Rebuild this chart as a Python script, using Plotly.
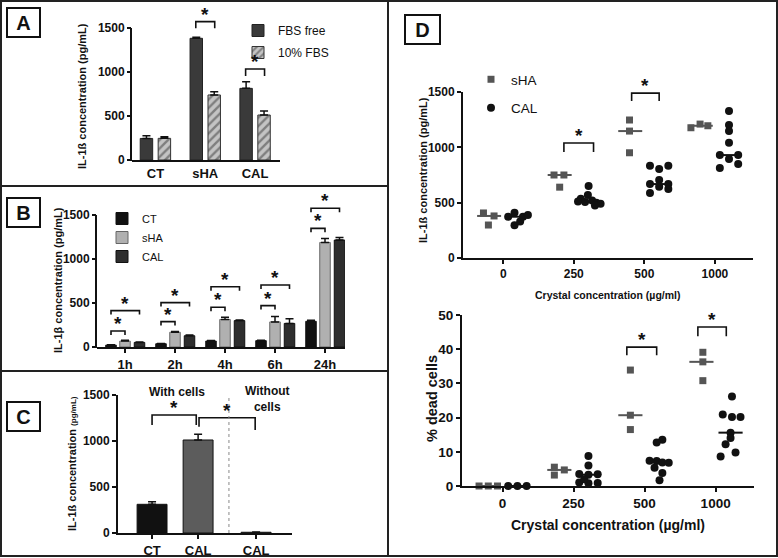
import numpy as np
import plotly.graph_objects as go

W, H = 778, 558
FONT = "Liberation Sans, Arial, sans-serif"


def fx(p):
    return p / W


def fy(p):
    return 1 - p / H


# ---------------- data ----------------
a_categories = ["CT", "sHA", "CAL"]
a_fbs_free = [245, 1383, 814]
a_fbs_free_err = [30, 11, 76]
a_fbs_10 = [246, 739, 511]
a_fbs_10_err = [19, 37, 46]

b_times = ["1h", "2h", "4h", "6h", "24h"]
b_ct = [22, 37, 68, 72, 292]
b_ct_err = [4, 4, 5, 5, 12]
b_sha = [67, 168, 313, 285, 1188]
b_sha_err = [10, 8, 25, 62, 45]
b_cal = [52, 128, 300, 268, 1215]
b_cal_err = [6, 8, 8, 52, 28]

c_labels = ["CT", "CAL", "CAL"]
c_values = [312, 1011, 8]
c_err = [28, 62, 3]

d_conc = ["0", "250", "500", "1000"]
d_il_sha = [[407, 380, 298], [750, 750, 640], [1247, 1147, 951], [1177, 1210, 1195]]
d_il_cal = [[373, 409, 296, 330, 373, 388],
            [650, 570, 535, 520, 510, 505, 500, 490, 475],
            [834, 804, 834, 668, 705, 668, 644, 587, 623],
            [1328, 1202, 1147, 1042, 930, 895, 930, 813, 849]]
d_dead_sha = [[0, 0, 0], [5.5, 4.7, 3.2], [33.9, 20.7, 16.5], [39.1, 36.3, 30.8]]
d_dead_cal = [[0, 0, 0],
              [8.8, 6.0, 3.5, 3.3, 3.4, 1.0, 0.8, 0.9, 2.0],
              [13.5, 12.7, 7.4, 7.3, 6.9, 6.8, 5.3, 3.8, 1.7],
              [26.2, 20.9, 20.2, 20.2, 15.6, 14.0, 12.2, 9.8, 8.6]]

# ---------------- layout helpers (positions / jitter, not data) ----------------
c_pos = [1, 2, 3.26]
d_il_sha_jit = [[-0.28, -0.13, -0.21], [-0.28, -0.14, -0.2], [-0.21, -0.21, -0.21], [-0.34, -0.21, -0.1]]
d_il_cal_jit = [[0.07, 0.16, 0.16, 0.24, 0.28, 0.35],
                [0.21, 0.2, 0.1, 0.26, 0.06, 0.16, 0.32, 0.38, 0.3],
                [0.08, 0.21, 0.34, 0.08, 0.21, 0.34, 0.21, 0.08, 0.34],
                [0.2, 0.2, 0.2, 0.2, 0.07, 0.2, 0.33, 0.07, 0.33]]
d_dead_sha_jit = [[-0.33, -0.2, -0.07], [-0.27, -0.13, -0.27], [-0.2, -0.2, -0.2], [-0.18, -0.18, -0.18]]
d_dead_cal_jit = [[0.08, 0.21, 0.34],
                  [0.21, 0.21, 0.08, 0.21, 0.34, 0.08, 0.21, 0.34, 0.15],
                  [0.25, 0.17, 0.07, 0.17, 0.25, 0.34, 0.14, 0.25, 0.21],
                  [0.23, 0.1, 0.23, 0.35, 0.21, 0.21, 0.14, 0.28, 0.07]]

fig = go.Figure()

BLK = "#111111"


def err(arr):
    return dict(type="data", array=arr, arrayminus=[0] * len(arr), symmetric=False,
                color=BLK, thickness=1.5, width=4)


def bracket(xa, ya, x0, x1, top, leg0, leg1=None, sx=None, size=19):
    if leg1 is None:
        leg1 = leg0
    fig.add_trace(go.Scatter(x=[x0, x0, x1, x1], y=[leg0, top, top, leg1], mode="lines",
                             line=dict(color=BLK, width=1.6), xaxis=xa, yaxis=ya,
                             showlegend=False, hoverinfo="skip"))
    fig.add_annotation(x=(x0 + x1) / 2 if sx is None else sx, y=top, xref=xa, yref=ya,
                       text="<b>*</b>", showarrow=False, yanchor="bottom", yshift=-5,
                       font=dict(size=size, color=BLK, family=FONT))


# ---------------- Panel A ----------------
a_x = list(range(len(a_categories)))
fig.add_trace(go.Bar(x=a_x, y=a_fbs_free, name="FBS free", width=0.25, offset=-0.305,
                     marker=dict(color="#3a3a3a", line=dict(color="#222", width=1)),
                     error_y=err(a_fbs_free_err), xaxis="x", yaxis="y",
                     legend="legend", legendgroup="a1"))
fig.add_trace(go.Bar(x=a_x, y=a_fbs_10, name="10% FBS", width=0.25, offset=0.055,
                     marker=dict(color="#c4c4c4", line=dict(color="#333", width=1),
                                 pattern=dict(shape="/", fgcolor="#3a3a3a", bgcolor="#c4c4c4",
                                              size=6, solidity=0.4)),
                     error_y=err(a_fbs_10_err), xaxis="x", yaxis="y",
                     legend="legend", legendgroup="a2"))
bracket("x", "y", 1 - 0.19, 1 + 0.19, 1572, 1496)
bracket("x", "y", 2 - 0.19, 2 + 0.19, 1034, 955)

# ---------------- Panel B ----------------
b_x = list(range(len(b_times)))
for name, vals, errs, col, off in [("CT", b_ct, b_ct_err, "#111111", -0.385),
                                   ("sHA", b_sha, b_sha_err, "#b0b0b0", -0.105),
                                   ("CAL", b_cal, b_cal_err, "#2e2e2e", 0.185)]:
    fig.add_trace(go.Bar(x=b_x, y=vals, name=name, width=0.21, offset=off,
                         marker=dict(color=col, line=dict(color="#666" if name == "sHA" else "#111", width=1)),
                         error_y=err(errs), xaxis="x2", yaxis="y2", legend="legend2"))
b_short_tops = [182, 288, 451, 470, 1348]
b_long_tops = [413, 504, 685, 705, 1576]
for i in b_x:
    bracket("x2", "y2", i - 0.28, i, b_short_tops[i], b_short_tops[i] - 45)
    bracket("x2", "y2", i - 0.28, i + 0.29, b_long_tops[i], b_long_tops[i] - 45)

# ---------------- Panel C ----------------
fig.add_trace(go.Bar(x=c_pos, y=c_values, width=0.65, offset=-0.325,
                     marker=dict(color=["#111111", "#5c5c5c", "#5c5c5c"], line=dict(color="#111", width=1)),
                     error_y=err(c_err), xaxis="x3", yaxis="y3", showlegend=False))
bracket("x3", "y3", 1, 1.96, 1283, 1174, sx=1.48)
bracket("x3", "y3", 2.02, 3.24, 1253, 1155, 1120, sx=2.63)

# ---------------- Panel D ----------------
SHA_COL = "#555555"


def scatter_group(vals, jits, xa, ya, name, symbol, col, size, legend, showlegend):
    xs, ys = [], []
    for i, (v, j) in enumerate(zip(vals, jits)):
        xs += [i + o for o in j]
        ys += v
    fig.add_trace(go.Scatter(x=xs, y=ys, mode="markers", name=name, cliponaxis=False,
                             marker=dict(symbol=symbol, color=col, size=size),
                             xaxis=xa, yaxis=ya, legend=legend, legendgroup=name,
                             showlegend=showlegend))


def medians(vals, center, xa, ya, col):
    for i, v in enumerate(vals):
        m = float(np.median(v))
        fig.add_trace(go.Scatter(x=[i + center - 0.17, i + center + 0.17], y=[m, m], mode="lines",
                                 line=dict(color=col, width=2), xaxis=xa, yaxis=ya,
                                 showlegend=False, hoverinfo="skip"))


medians(d_il_sha, -0.2, "x4", "y4", SHA_COL)
medians(d_il_cal, 0.21, "x4", "y4", BLK)
medians(d_dead_sha, -0.2, "x5", "y5", SHA_COL)
medians(d_dead_cal, 0.21, "x5", "y5", BLK)
scatter_group(d_il_sha, d_il_sha_jit, "x4", "y4", "sHA", "square", SHA_COL, 7, "legend3", True)
scatter_group(d_il_cal, d_il_cal_jit, "x4", "y4", "CAL", "circle", BLK, 8, "legend3", True)
scatter_group(d_dead_sha, d_dead_sha_jit, "x5", "y5", "sHA", "square", SHA_COL, 7, "legend3", False)
scatter_group(d_dead_cal, d_dead_cal_jit, "x5", "y5", "CAL", "circle", BLK, 8, "legend3", False)

bracket("x4", "y4", 1 - 0.14, 1 + 0.28, 1039, 958)
bracket("x4", "y4", 2 - 0.18, 2 + 0.21, 1490, 1418)
bracket("x5", "y5", 2 - 0.25, 2 + 0.17, 40.6, 38.2)
bracket("x5", "y5", 3 - 0.25, 3 + 0.15, 46.5, 43.8)

# ---------------- axes ----------------
common = dict(showgrid=False, zeroline=False, linecolor=BLK, linewidth=2, ticks="outside",
              ticklen=4, tickwidth=2, tickcolor=BLK, automargin=False)
num_font = dict(family=FONT, size=12, color=BLK, weight="bold")
cat_font = dict(family=FONT, size=13, color=BLK, weight="bold")

YMAX_AB = 1650
# A
a_dom_x = [fx(132), fx(280)]
a_dom_y = [fy(160), fy(160 - 132 * YMAX_AB / 1500)]
fig.update_layout(
    xaxis=dict(domain=a_dom_x, anchor="y", range=[-0.47, 2.5], tickvals=a_x, ticktext=a_categories,
               tickfont=cat_font, ticks="", **{k: v for k, v in common.items() if k != "ticks"}),
    yaxis=dict(domain=a_dom_y, anchor="x", range=[0, YMAX_AB], tickvals=[0, 500, 1000, 1500],
               tickfont=num_font, **{**common, "linewidth": 0}, showline=False),
)
# B
b_dom_x = [fx(97), fx(345)]
b_dom_y = [fy(347), fy(347 - 132 * YMAX_AB / 1500)]
fig.update_layout(
    xaxis2=dict(domain=b_dom_x, anchor="y2", range=[-0.56, 4.4], tickvals=b_x, ticktext=b_times,
                tickfont=cat_font, **common),
    yaxis2=dict(domain=b_dom_y, anchor="x2", range=[0, YMAX_AB], tickvals=[0, 500, 1000, 1500],
                tickfont=num_font, **{**common, "linewidth": 0}, showline=False),
)
# C
fig.update_layout(
    xaxis3=dict(domain=[fx(118), fx(292)], anchor="y3", range=[0.26, 4.04], tickvals=c_pos,
                ticktext=c_labels, tickfont=cat_font, **common),
    yaxis3=dict(domain=[fy(533), fy(395)], anchor="x3", range=[0, 1500], tickvals=[0, 500, 1000, 1500],
                tickfont=num_font, **common),
)
# D top
d_x = list(range(len(d_conc)))
d_top_font = dict(family=FONT, size=12, color=BLK, weight="bold")
fig.update_layout(
    xaxis4=dict(domain=[fx(463), fx(753)], anchor="y4", range=[-0.57, 3.54], tickvals=d_x,
                ticktext=d_conc, tickfont=d_top_font, **common),
    yaxis4=dict(domain=[fy(258), fy(92)], anchor="x4", range=[0, 1500], tickvals=[0, 500, 1000, 1500],
                tickfont=d_top_font, **common),
)
# D bottom
d_bot_font = dict(family=FONT, size=13.5, color=BLK, weight="bold")
fig.update_layout(
    xaxis5=dict(domain=[fx(462), fx(754)], anchor="y5", range=[-0.57, 3.54], tickvals=d_x,
                ticktext=d_conc, tickfont=d_bot_font, **common),
    yaxis5=dict(domain=[fy(486), fy(315)], anchor="x5", range=[0, 50], tickvals=[0, 10, 20, 30, 40, 50],
                tickfont=d_bot_font, **common),
)
for ax in ["xaxis", "xaxis2", "xaxis3", "xaxis4", "xaxis5", "yaxis3", "yaxis4", "yaxis5"]:
    fig.layout[ax].showline = True

shapes = []
# y-axis lines for A and B (stop at 1500)
for dx, dy in [(a_dom_x, a_dom_y), (b_dom_x, b_dom_y)]:
    top = dy[0] + (dy[1] - dy[0]) * 1500 / YMAX_AB
    shapes.append(dict(type="line", xref="paper", yref="paper", x0=dx[0] - 1 / W, x1=dx[0] - 1 / W,
                       y0=dy[0] - 1 / H, y1=top, line=dict(color=BLK, width=2)))
# dotted separator in C
shapes.append(dict(type="line", xref="x3", yref="y3", x0=2.67, x1=2.67, y0=0, y1=1500,
                   line=dict(color="#888", width=1, dash="dot")))
# panel frames
frame = dict(color="#222", width=2)
shapes.append(dict(type="rect", xref="paper", yref="paper", x0=fx(1), x1=fx(777), y0=fy(556), y1=fy(1),
                   line=frame))
shapes.append(dict(type="line", xref="paper", yref="paper", x0=fx(388), x1=fx(388), y0=fy(556), y1=fy(1),
                   line=frame))
for yy in [186, 371]:
    shapes.append(dict(type="line", xref="paper", yref="paper", x0=fx(1), x1=fx(388), y0=fy(yy), y1=fy(yy),
                       line=frame))
fig.update_layout(shapes=shapes)


# ---------------- text annotations ----------------
def label_box(txt, cx, cy, w=29, h=25):
    fig.add_annotation(x=fx(cx), y=fy(cy), xref="paper", yref="paper", text="<b>%s</b>" % txt,
                       showarrow=False, xanchor="center", yanchor="middle", width=w, height=h,
                       bordercolor=BLK, borderwidth=2, bgcolor="white",
                       font=dict(family=FONT, size=20, color=BLK))


label_box("A", 23.5, 22)
label_box("B", 23.5, 212)
label_box("C", 23.5, 416)
label_box("D", 422, 30, w=31)


def text(t, cx, cy, size, angle=0, bold=True):
    fig.add_annotation(x=fx(cx), y=fy(cy), xref="paper", yref="paper",
                       text=("<b>%s</b>" % t) if bold else t, showarrow=False,
                       xanchor="center", yanchor="middle", textangle=angle,
                       font=dict(family=FONT, size=size, color=BLK))


text("IL-1ß concentration (pg/mL)", 82, 96, 11, -90)
text("IL-1β concentration (pg/mL)", 58, 280, 11, -90)
text("IL-1ß concentration <span style='font-size:8px'>(pg/mL)</span>", 72, 464, 11, -90)
text("IL-1ß concentration (pg/mL)", 423, 170, 11, -90)
text("Crystal concentration (µg/ml)", 608, 295, 10.5)
text("% dead cells", 432, 399, 14.5, -90)
text("Crystal concentration (µg/ml)", 608, 525, 14)
text("With cells", 177, 392, 12)
text("Without<br>cells", 267, 399, 12)

# ---------------- legends ----------------
fig.update_layout(
    legend=dict(x=fx(238), y=fy(16), xanchor="left", yanchor="top", bgcolor="rgba(0,0,0,0)",
                font=dict(family=FONT, size=12, color=BLK), traceorder="grouped", tracegroupgap=3),
    legend2=dict(x=fx(102), y=fy(204), xanchor="left", yanchor="top", bgcolor="rgba(0,0,0,0)",
                 font=dict(family=FONT, size=11, color=BLK), tracegroupgap=0),
    legend3=dict(x=fx(471), y=fy(64), xanchor="left", yanchor="top", bgcolor="rgba(0,0,0,0)",
                 font=dict(family=FONT, size=13.5, color=BLK), traceorder="grouped", tracegroupgap=8),
)

fig.update_layout(width=W, height=H, margin=dict(l=0, r=0, t=0, b=0), paper_bgcolor="white",
                  plot_bgcolor="white", font=dict(family=FONT, color=BLK), barmode="group",
                  hovermode=False)

fig.write_html("out.html", config={"displayModeBar": False},
               post_script="document.body.style.margin='0px';document.body.style.overflow='hidden';"
                           "document.documentElement.style.overflow='hidden';")
